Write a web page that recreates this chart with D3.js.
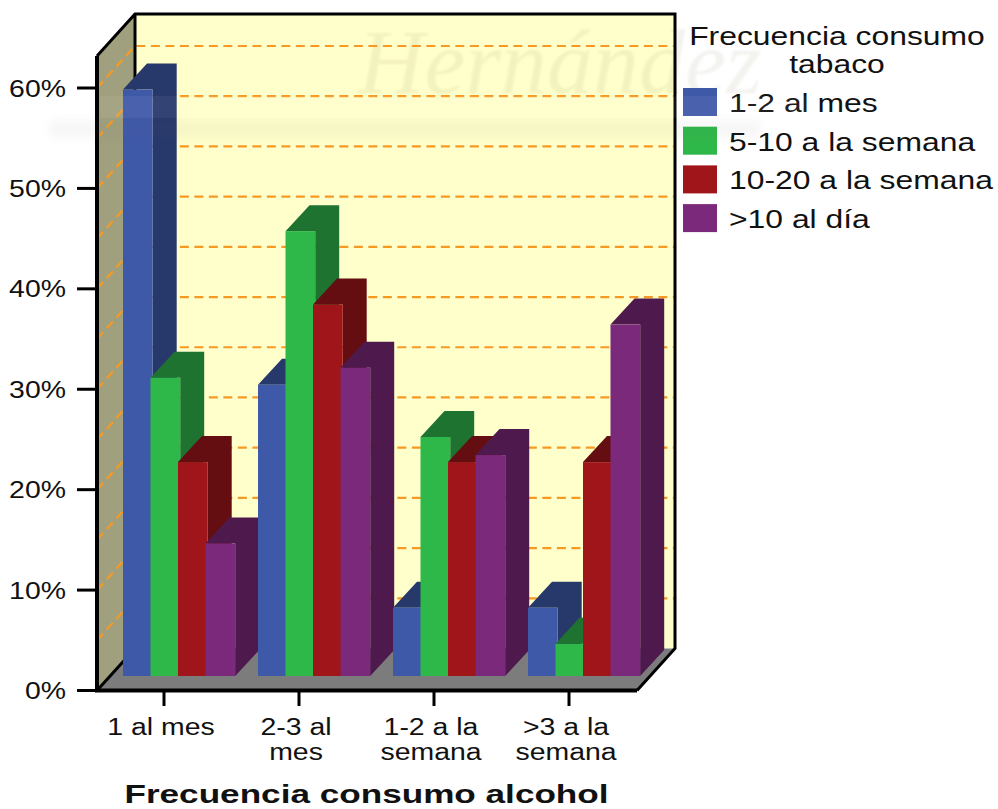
<!DOCTYPE html>
<html><head><meta charset="utf-8">
<script src="https://cdn.jsdelivr.net/npm/d3@7/dist/d3.min.js"></script>
<style>html,body{margin:0;padding:0;background:#fff}svg{display:block}text{font-family:"Liberation Sans",Arial,sans-serif;fill:#111}</style>
</head><body><svg id="c" width="998" height="809"></svg>
<script>
const categories = [["1 al mes"],["2-3 al","mes"],["1-2 a la","semana"],[">3 a la","semana"]];
const seriesNames = ["1-2 al mes","5-10 a la semana","10-20 a la semana",">10 al día"];
const s12mes = [58.4,29,6.8,6.8];
const s510sem = [29.7,44.3,23.8,3.2];
const s1020sem = [21.3,37,21.3,21.3];
const s10dia = [13.2,30.7,22,35];
const yTickValues = [0,10,20,30,40,50,60];
const gridValues = [5,10,15,20,25,30,35,40,45,50,55,60];
const faces = [
  {front:"#3f59a9",side:"#27386b"},
  {front:"#2fb84a",side:"#1e7331"},
  {front:"#a01519",side:"#640e11"},
  {front:"#7b297b",side:"#4e1a4e"}];
const values = [s12mes,s510sem,s1020sem,s10dia];

const svg = d3.select("#c");
const y = d3.scaleLinear().domain([0,60]).range([690.5,88]);
const x0 = d3.scaleBand().domain(d3.range(4)).range([97,637]);
const dX = 38, dY = -42;
const bX = 24, bY = -26;
const floorInset = 14.5;
const yBar = v => y(v) - floorInset;
const defs = svg.append("defs");
defs.append("filter").attr("id","bl").append("feGaussianBlur").attr("stdDeviation",1.3);
const bf = defs.append("filter").attr("id","bl2").attr("x","-5%").attr("y","-80%").attr("width","110%").attr("height","260%");
bf.append("feGaussianBlur").attr("stdDeviation",4);

const poly = pts => "M"+pts.map(p=>p.join(",")).join("L")+"Z";
// walls
svg.append("rect").attr("x",97+dX).attr("y",14).attr("width",540).attr("height",y(0)-14+dY).attr("fill","#ffffcb");
svg.append("path").attr("d",poly([[97,y(0)],[97,56],[135,14],[135,648.5]])).attr("fill","#a0a07e");
svg.append("path").attr("d",poly([[97,y(0)],[135,648.5],[675,648.5],[637,y(0)]])).attr("fill","#7c7c7c");
// watermark
const wm = svg.append("g").attr("opacity",.09).attr("filter","url(#bl)");
wm.append("text").attr("transform","translate(358,93) scale(1.0,1)").attr("font-size",92).attr("font-style","italic")
  .style("font-family","'Liberation Serif',serif").style("fill","#807a50").text("Hernández");
// grid
gridValues.forEach(v=>{
  const yy=y(v);
  svg.append("path").attr("d",`M97,${yy}L135,${yy+dY}L675,${yy+dY}`).attr("fill","none")
    .attr("stroke","#f79a24").attr("stroke-width",2.2).attr("stroke-dasharray","9 5.5");
});
// frame
const fr = svg.append("g").attr("fill","none").attr("stroke","#000").attr("stroke-linejoin","miter");
fr.append("path").attr("stroke-width",3).attr("d",`M97,${y(0)}L135,648.5M135,648.5V14M97,56L135,14H675V648.5L637,${y(0)}`);
fr.append("path").attr("stroke-width",4).attr("d",`M97,56V${y(0)}H637`);
// bars
const gap = 135, start = 123, step = 27.5, w = 29.7;
[0,1,2,3].forEach(c=>{
  const g = svg.append("g");
  const cx = start + c*gap;
  values.forEach((vals,s)=>{
    const v = vals[c], xl = cx + s*step, xr = xl + w, t=yBar(v), b=yBar(0);
    g.append("path").attr("d",poly([[xl,t],[xl+bX,t+bY],[xr+bX,t+bY],[xr+bX,b+bY],[xr,b],[xr,t]])).attr("fill",faces[s].side);
    g.append("rect").attr("x",xl).attr("y",t).attr("width",xr-xl).attr("height",b-t).attr("fill",faces[s].front);
  });
});
// axes
const big = 1.21;
yTickValues.forEach(v=>{
  svg.append("path").attr("d",`M77,${y(v)}H97`).attr("stroke","#000").attr("stroke-width",3);
  svg.append("text").attr("transform",`translate(66,${y(v)+8.5}) scale(${big},1)`).attr("text-anchor","end")
    .attr("font-size",23.5).text(v+"%");
});
categories.forEach((lines,i)=>{
  const cx = x0(i)+x0.bandwidth()/2 - 0.5;
  svg.append("path").attr("d",`M${cx},${y(0)}V706`).attr("stroke","#000").attr("stroke-width",3);
  lines.forEach((t,j)=>{
    svg.append("text").attr("transform",`translate(${cx-3},${735+j*24.5}) scale(${big},1)`).attr("text-anchor","middle")
      .attr("font-size",23.5).text(t);
  });
});
svg.append("text").attr("transform","translate(366.5,803) scale(1.326,1)").attr("text-anchor","middle")
  .attr("font-size",26.5).attr("font-weight",700).text("Frecuencia consumo alcohol");
// legend
["Frecuencia consumo","tabaco"].forEach((t,i)=>{
  svg.append("text").attr("transform",`translate(837,${45+i*28}) scale(1.275,1)`).attr("text-anchor","middle")
    .attr("font-size",25).text(t);
});
seriesNames.forEach((n,i)=>{
  const yy = 88+i*38.7;
  svg.append("rect").attr("x",683).attr("y",yy).attr("width",34).attr("height",28).attr("fill",faces[i].front);
  svg.append("text").attr("transform",`translate(729,${yy+24}) scale(1.275,1)`).attr("font-size",25).text(n);
});
// watermark shadow bands over the picture
svg.append("rect").attr("x",50).attr("y",120).attr("width",710).attr("height",18).attr("fill","#666").attr("opacity",.05).attr("filter","url(#bl2)");
svg.append("rect").attr("x",100).attr("y",96).attr("width",720).attr("height",22).attr("fill","#fff").attr("opacity",.06);
</script></body></html>
